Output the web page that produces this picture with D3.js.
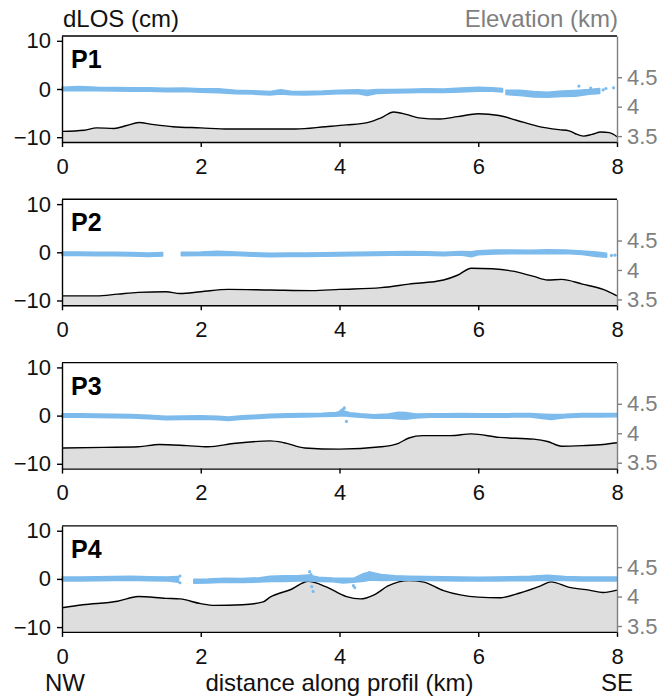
<!DOCTYPE html>
<html>
<head>
<meta charset="utf-8">
<script src="https://cdn.jsdelivr.net/npm/d3@7"></script>
<style>
body {margin:0; background:#fff}
</style>
</head>
<body>
<div id="chart"></div>
<script>
// ---- elevation along each profile (km) ----
var p1_elev_dist = [0,0.32,0.5,0.75,0.93,1.11,1.3,1.6,2.0,2.4,2.76,3.37,3.8,4.1,4.4,4.6,4.78,4.96,5.14,5.45,5.7,6.0,6.3,6.55,6.85,7.16,7.31,7.4,7.52,7.64,7.77,7.89,8.0]
var p1_elev      = [3.58,3.60,3.64,3.63,3.68,3.73,3.70,3.66,3.64,3.62,3.62,3.62,3.66,3.69,3.73,3.81,3.91,3.87,3.81,3.79,3.83,3.88,3.85,3.77,3.67,3.61,3.59,3.54,3.50,3.53,3.57,3.56,3.49]

var p2_elev_dist = [0,0.5,0.8,1.1,1.5,1.7,2.0,2.4,3.0,3.6,4.0,4.6,5.0,5.5,5.7,5.9,6.2,6.5,6.8,7.0,7.2,7.5,7.8,8.0]
var p2_elev      = [3.56,3.56,3.59,3.62,3.63,3.60,3.63,3.67,3.66,3.65,3.67,3.70,3.76,3.83,3.91,4.03,4.02,3.98,3.89,3.83,3.84,3.76,3.67,3.56]

var p3_elev_dist = [0,0.6,1.1,1.4,1.8,2.1,2.5,3.0,3.2,3.5,4.0,4.6,4.85,5.0,5.2,5.6,5.9,6.3,6.8,7.0,7.2,7.5,7.8,8.0]
var p3_elev      = [3.75,3.76,3.77,3.81,3.79,3.77,3.83,3.87,3.84,3.75,3.73,3.77,3.83,3.92,3.96,3.96,3.99,3.93,3.90,3.86,3.78,3.79,3.81,3.84]

var p4_elev_dist = [0,0.3,0.8,1.1,1.5,1.7,2.0,2.2,2.6,2.9,3.0,3.3,3.55,3.8,4.1,4.3,4.5,4.7,5.0,5.2,5.5,6.0,6.3,6.6,6.9,7.05,7.3,7.6,7.8,8.0]
var p4_elev      = [3.81,3.86,3.92,4.00,3.97,3.96,3.88,3.85,3.86,3.91,3.99,4.12,4.26,4.17,4.00,3.96,4.03,4.18,4.27,4.25,4.10,3.99,3.98,4.06,4.18,4.25,4.16,4.11,4.07,4.11]

// ---- dLOS cloud (cm): centre of the band and half its thickness, null = no data ----
var p1_los_dist = [0,0.25,0.5,0.75,1.0,1.25,1.5,1.75,2.0,2.25,2.5,2.75,3.0,3.15,3.3,3.5,3.75,4.0,4.25,4.4,4.55,4.75,5.0,5.25,5.5,5.75,6.0,6.2,6.35,6.37,6.4,6.6,6.8,7.0,7.2,7.4,7.6,7.75]
var p1_los_mid  = [0,0.1,0,-0.05,-0.1,-0.1,-0.2,-0.15,-0.3,-0.35,-0.6,-0.7,-0.9,-0.6,-0.85,-0.9,-0.8,-0.6,-0.55,-0.8,-0.5,-0.45,-0.4,-0.3,-0.35,-0.2,-0.05,-0.1,-0.25,null,-0.7,-0.8,-1.1,-1.2,-1.0,-0.9,-0.6,-0.4]
var p1_los_half = [0.35,0.4,0.35,0.35,0.35,0.35,0.35,0.35,0.35,0.4,0.35,0.35,0.35,0.45,0.35,0.35,0.35,0.35,0.4,0.55,0.4,0.35,0.35,0.35,0.35,0.4,0.4,0.35,0.35,null,0.45,0.55,0.55,0.5,0.55,0.6,0.5,0.5]
var p1_los_out  = [[7.45,0.6],[7.62,0.2],[7.8,-0.2],[7.84,0.1],[7.95,0.25]]

var p2_los_dist = [0,0.25,0.5,0.75,1.0,1.25,1.45,1.5,1.72,2.0,2.25,2.5,2.75,3.0,3.25,3.5,3.75,4.0,4.25,4.5,4.75,5.0,5.25,5.5,5.75,5.9,6.0,6.25,6.5,6.75,7.0,7.25,7.5,7.7,7.85]
var p2_los_mid  = [-0.3,-0.3,-0.35,-0.35,-0.4,-0.5,-0.4,null,-0.35,-0.3,-0.2,-0.3,-0.45,-0.55,-0.5,-0.5,-0.45,-0.4,-0.35,-0.3,-0.25,-0.2,-0.25,-0.35,-0.2,-0.4,-0.1,0.05,0.1,0.05,0.1,0.1,-0.1,-0.4,-0.6]
var p2_los_half = [0.35,0.35,0.35,0.35,0.35,0.35,0.35,null,0.35,0.35,0.4,0.35,0.35,0.35,0.35,0.35,0.35,0.35,0.35,0.35,0.35,0.35,0.35,0.35,0.35,0.5,0.4,0.4,0.35,0.35,0.4,0.35,0.35,0.45,0.4]
var p2_los_out  = [[7.92,-0.65],[7.97,-0.6]]

var p3_los_dist = [0,0.25,0.5,0.75,1.0,1.25,1.5,1.75,2.0,2.25,2.4,2.6,2.75,3.0,3.25,3.5,3.75,3.95,4.05,4.15,4.3,4.5,4.7,4.85,4.95,5.1,5.3,5.5,5.75,6.0,6.25,6.5,6.75,6.95,7.05,7.25,7.5,7.75,8.0]
var p3_los_mid  = [0,0,-0.05,-0.1,-0.15,-0.3,-0.5,-0.45,-0.4,-0.5,-0.65,-0.4,-0.3,-0.1,0,0.05,0.15,0.25,0.5,0.2,0,-0.2,-0.1,0,-0.05,-0.1,0,0,0.05,0,0,0.05,0.05,-0.2,-0.3,-0.1,0.05,0.05,0.1]
var p3_los_half = [0.35,0.35,0.35,0.35,0.35,0.35,0.35,0.35,0.35,0.35,0.35,0.35,0.35,0.35,0.35,0.35,0.35,0.4,0.5,0.4,0.35,0.35,0.4,0.7,0.7,0.4,0.35,0.35,0.35,0.35,0.35,0.35,0.35,0.45,0.5,0.35,0.35,0.35,0.35]
var p3_los_out  = [[4.02,1.0],[4.05,1.3],[4.07,1.6],[4.1,-1.2]]

var p4_los_dist = [0,0.25,0.5,0.75,1.0,1.25,1.5,1.68,1.72,1.9,2.1,2.35,2.6,2.85,3.0,3.2,3.4,3.55,3.7,3.9,4.05,4.2,4.35,4.45,4.6,4.8,5.0,5.25,5.5,5.75,6.0,6.25,6.5,6.75,7.0,7.25,7.5,7.75,8.0]
var p4_los_mid  = [0,0,0.05,0.1,0.15,0.05,0,-0.1,null,-0.5,-0.45,-0.3,-0.35,-0.2,0,0.05,0.1,0.2,-0.1,-0.2,-0.35,-0.3,0.3,0.6,0.3,0.2,0.15,0.1,0.05,0,-0.05,0,0.05,0.1,0.25,0.1,0,0,0]
var p4_los_half = [0.4,0.4,0.4,0.4,0.4,0.4,0.4,0.6,null,0.4,0.4,0.4,0.4,0.45,0.55,0.6,0.55,0.6,0.45,0.4,0.5,0.4,0.8,0.8,0.6,0.45,0.4,0.4,0.4,0.4,0.4,0.4,0.4,0.45,0.5,0.4,0.4,0.4,0.4]
var p4_los_out  = [[1.7,-0.8],[1.7,0.6],[3.57,1.5],[3.59,0.9],[3.6,-1.6],[3.62,-2.6],[4.2,-1.4],[4.22,-1.8],[4.43,1.3]]

var panel_names = ["P1","P2","P3","P4"]
var x_ticks = [0,2,4,6,8]
var los_ticks = [-10,0,10]
var elev_ticks = [3.5,4,4.5]

var profiles = [
  {name: panel_names[0], ed: p1_elev_dist, ev: p1_elev, ld: p1_los_dist, lm: p1_los_mid, lh: p1_los_half, out: p1_los_out},
  {name: panel_names[1], ed: p2_elev_dist, ev: p2_elev, ld: p2_los_dist, lm: p2_los_mid, lh: p2_los_half, out: p2_los_out},
  {name: panel_names[2], ed: p3_elev_dist, ev: p3_elev, ld: p3_los_dist, lm: p3_los_mid, lh: p3_los_half, out: p3_los_out},
  {name: panel_names[3], ed: p4_elev_dist, ev: p4_elev, ld: p4_los_dist, lm: p4_los_mid, lh: p4_los_half, out: p4_los_out}
]

var width = 663,
    height = 697
var font = "'Liberation Sans', Arial, Helvetica, sans-serif"
var blue = "#7dbbec",
    grey_txt = "#7f7f7f"

var svg = d3.select("#chart")
    .append("svg")
    .attr("width", width)
    .attr("height", height)
    .style("font-family", font)

var x = d3.scaleLinear().domain([0, 8]).range([62, 617])

var zero_y = 89,      // y of dLOS = 0 in the first panel
    panel_step = 163.3,
    half_h = 53       // half of a panel's height

profiles.forEach(function(p, i) {
    var y0 = zero_y + i * panel_step
    var top = y0 - half_h,
        bottom = y0 + half_h
    var yL = d3.scaleLinear().domain([-11, 11]).range([bottom, top])
    var yR = d3.scaleLinear().domain([3.40, 5.2]).range([bottom, top])
    var g = svg.append("g")

    // topography
    var topo = p.ed.map(function(d, k) { return [d, p.ev[k]] })
    g.append("path")
        .attr("d", d3.area().x(function(d) { return x(d[0]) }).y0(bottom).y1(function(d) { return yR(d[1]) })
            .curve(d3.curveMonotoneX)(topo))
        .attr("fill", "#dedede")
    g.append("path")
        .attr("d", d3.line().x(function(d) { return x(d[0]) }).y(function(d) { return yR(d[1]) })
            .curve(d3.curveMonotoneX)(topo))
        .attr("fill", "none")
        .attr("stroke", "#000")
        .attr("stroke-width", 1.4)

    // dLOS band
    var los = p.ld.map(function(d, k) { return [d, p.lm[k], p.lh[k]] })
    g.append("path")
        .attr("d", d3.area()
            .defined(function(d) { return d[1] !== null })
            .x(function(d) { return x(d[0]) })
            .y0(function(d) { return yL(d[1] - d[2]) })
            .y1(function(d) { return yL(d[1] + d[2]) })(los))
        .attr("fill", blue)
        .attr("stroke", blue)
        .attr("stroke-width", 1.6)
        .attr("stroke-linejoin", "round")
    g.selectAll(null)
        .data(p.out)
        .enter()
        .append("circle")
        .attr("cx", function(d) { return x(d[0]) })
        .attr("cy", function(d) { return yL(d[1]) })
        .attr("r", 1.6)
        .attr("fill", blue)

    // frame
    g.append("line").attr("x1", x(0)).attr("x2", x(8)).attr("y1", top).attr("y2", top)
        .attr("stroke", "#000").attr("stroke-width", 1.4)

    var ax_l = g.append("g").attr("transform", "translate(" + x(0) + ",0)")
        .call(d3.axisLeft(yL).tickValues(los_ticks).tickSize(5).tickSizeOuter(0).tickPadding(6).tickFormat(d3.format("d")))
    var ax_b = g.append("g").attr("transform", "translate(0," + bottom + ")")
        .call(d3.axisBottom(x).tickValues(x_ticks).tickSize(5).tickSizeOuter(0).tickPadding(11))
    var ax_r = g.append("g").attr("transform", "translate(" + x(8) + ",0)")
        .call(d3.axisRight(yR).tickValues(elev_ticks).tickSize(5).tickSizeOuter(0).tickPadding(5).tickFormat(function(d) { return d }))

    ;[ax_l, ax_b, ax_r].forEach(function(a) {
        a.attr("font-family", font).attr("font-size", 22)
        a.selectAll("path, line").attr("stroke-width", 1.4)
    })
    ax_l.selectAll("text").attr("fill", "#111")
    ax_b.selectAll("text").attr("fill", "#111")
    ax_r.selectAll("path, line").attr("stroke", grey_txt)
    ax_r.selectAll("text").attr("fill", grey_txt)

    g.append("text")
        .attr("x", x(0) + 9)
        .attr("y", top + 32)
        .attr("font-size", 25)
        .attr("font-weight", "bold")
        .text(p.name)
})

// axis titles
svg.append("text").attr("x", 63).attr("y", 27).attr("font-size", 24).attr("fill", "#111").text("dLOS (cm)")
svg.append("text").attr("x", 618).attr("y", 27).attr("font-size", 24).attr("fill", grey_txt)
    .attr("text-anchor", "end").text("Elevation (km)")

var bottom_y = 691
svg.append("text").attr("x", x(0) + 3).attr("y", bottom_y).attr("font-size", 24).attr("text-anchor", "middle").attr("fill", "#111").text("NW")
svg.append("text").attr("x", x(4)).attr("y", bottom_y).attr("font-size", 24).attr("text-anchor", "middle").attr("fill", "#111").text("distance along profil (km)")
svg.append("text").attr("x", x(8)).attr("y", bottom_y).attr("font-size", 24).attr("text-anchor", "middle").attr("fill", "#111").text("SE")
</script>
</body>
</html>
